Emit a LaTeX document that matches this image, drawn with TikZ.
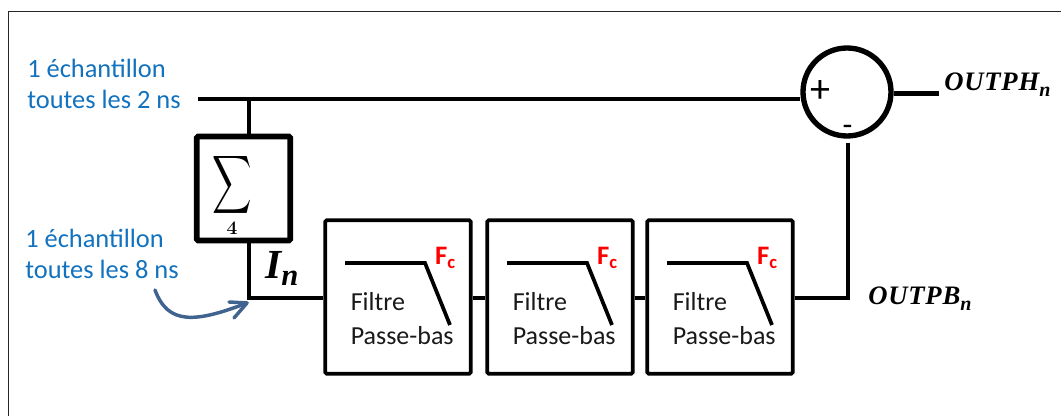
\documentclass[tikz,border=0pt]{standalone}
\usepackage{amsmath}
\usepackage{fontspec}
\setmainfont{Carlito}
\newfontfamily\mathlike[LetterSpace=3]{Liberation Serif}
\newfontfamily\mathplain{Liberation Serif}
\definecolor{bluetxt}{HTML}{1272BE}
\definecolor{arrowblue}{HTML}{41638F}
\tikzset{
  x=0.75pt,y=-0.75pt,
  wire/.style={line width=3.4pt,black},
  thinwire/.style={line width=2.9pt,black},
  sumbox/.style={draw,line width=4.3pt,rounded corners=1pt,minimum width=70pt,minimum height=78pt,inner sep=0pt},
  filterbox/.style={draw,line width=2.8pt,rounded corners=1pt,minimum width=109pt,minimum height=115pt,inner sep=0pt},
  sumcircle/.style={circle,draw,line width=4pt,minimum size=66pt,inner sep=0pt},
  bluelabel/.style={text=bluetxt,font=\fontsize{19.8}{23.8}\selectfont,align=left,anchor=west,inner sep=0pt},
  filterlabel/.style={text=black!90,font=\fontsize{19.5}{26}\selectfont,align=left,anchor=north west,inner sep=0pt},
  fclabel/.style={text=red,font=\bfseries\fontsize{20}{20}\selectfont,inner sep=0pt},
  curveline/.style={line width=2.8pt,black},
  outlabel/.style={anchor=base west,inner sep=0pt,font=\mathlike\bfseries\itshape\fontsize{20}{20}\selectfont},
  inlabel/.style={anchor=base west,inner sep=0pt,font=\mathplain\bfseries\itshape\fontsize{31}{31}\selectfont},
}
\newcommand{\lowered}[2]{\raisebox{-#2pt}{\fontsize{#1}{#1}\selectfont n}}
\newcommand{\filterblock}[3]{%
  \node[filterbox] (#1) at (#2,297) {};
  \coordinate (#1a) at (#2-53,263);
  \coordinate (#1b) at (#2+27,263);
  \coordinate (#1c) at (#2+52,325);
  \draw[curveline] (#1a) -- (#1b) -- (#1c);
  \node[filterlabel] (#1t) at (#2-47.5,#3) {Filtre\\Passe-bas};
  \node[fclabel] (#1f) at (#2+47.5,258) {F\textsubscript{c}};
}
\begin{document}
\begin{tikzpicture}
\useasboundingbox (0,0) rectangle (1061,416);
\fill[white] (0,0) rectangle (1061,416);
\coordinate (fa) at (8.5,416);
\coordinate (fb) at (8.5,11.5);
\coordinate (fc) at (1061,11.5);
\draw[line width=1.3pt,black!85] (fa) -- (fb) -- (fc);

\node[bluelabel] (t1) at (27,84) {1 échantillon\\toutes les 2 ns};
\node[bluelabel] (t2) at (25,254) {1 échantillon\\toutes les 8 ns};

\coordinate (start) at (198,99);
\coordinate (tap) at (249,99);
\node[sumbox] (sum) at (243.5,188.5) {};
\node (sigma) at (232,185) {\scalebox{2.05}[3.05]{$\displaystyle\sum$}};
\node[inner sep=0pt,font=\fontsize{14}{14}\selectfont] (four) at (232,228) {$\boldsymbol{4}$};
\node[sumcircle] (diff) at (847,92) {};
\node[inner sep=0pt,font=\fontsize{30}{30}\selectfont] (plus) at (820.5,92) {+};
\node[inner sep=0pt,font=\fontsize{24}{24}\selectfont] (minus) at (847.5,130) {-};

\filterblock{f1}{398}{292}
\filterblock{f2}{560}{292}
\filterblock{f3}{720}{292}

\coordinate (corner) at (249,298);
\coordinate (junc) at (848,298);
\coordinate (hin) at (800,99);
\coordinate (hout) at (939,93.5);
\coordinate (vin) at (848,143);
\draw[wire] (start) -- (hin);
\draw[wire] (tap) -- (sum.north -| tap);
\draw[wire] (sum.south -| corner) -- (corner) -- (f1.west |- corner);
\draw[thinwire] (f1.east |- corner) -- (f2.west |- corner);
\draw[thinwire] (f2.east |- corner) -- (f3.west |- corner);
\draw[wire] (f3.east |- corner) -- (junc) -- (vin);
\draw[wire] (diff.east |- hout) -- (hout);

\node[inlabel] (in) at (265,279) {I\lowered{23}{5}};
\node[outlabel] (oh) at (944,91) {OUTPH\lowered{15}{4}};
\node[outlabel] (ob) at (868,305) {OUTPB\lowered{15}{4}};

\coordinate (ar0) at (155,290);
\coordinate (ar1) at (247,303);
\draw[line width=2.6pt,arrowblue,line cap=round] (ar0) .. controls (168,325) and (195,323) .. (ar1);
\draw[line width=2.6pt,arrowblue,line cap=round,line join=round] (229,302) -- (ar1) -- (234,318);
\end{tikzpicture}
\end{document}
